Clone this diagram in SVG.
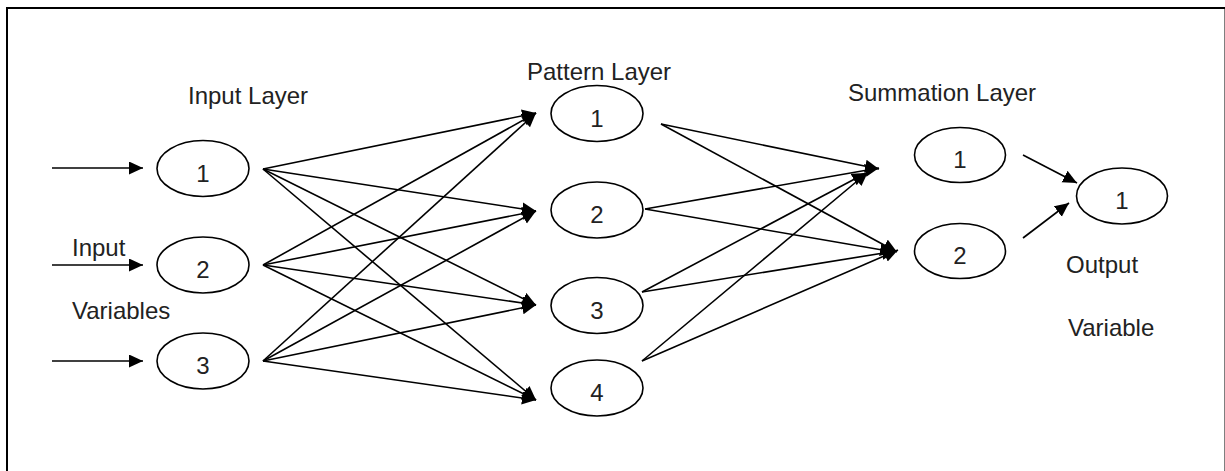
<svg xmlns="http://www.w3.org/2000/svg" width="1225" height="471" viewBox="0 0 1225 471">
<defs>
<style>
.t{font-family:"Liberation Sans",Arial,sans-serif;font-size:24px;fill:#222}
.n{font-family:"Liberation Sans",Arial,sans-serif;font-size:24px;fill:#222;text-anchor:middle}
.e{fill:#fff;stroke:#000;stroke-width:1.6}
.c line{stroke:#000;stroke-width:1.6;marker-end:url(#ah)}
</style>
<marker id="ah" markerUnits="userSpaceOnUse" markerWidth="15" markerHeight="14" refX="14" refY="6.5" orient="auto">
<path d="M0,0 L14,6.5 L0,13 z" fill="#000"/>
</marker>
</defs>
<rect width="1225" height="471" fill="#fff"/>
<path d="M7,480 V8 H1225.5 V480" fill="none" stroke="#000" stroke-width="2"/>

<text class="t" x="188" y="104">Input Layer</text>
<text class="t" x="527" y="80">Pattern Layer</text>
<text class="t" x="848" y="101">Summation Layer</text>
<text class="t" x="72" y="256">Input</text>
<text class="t" x="72" y="319">Variables</text>
<text class="t" x="1066" y="273">Output</text>
<text class="t" x="1068" y="336">Variable</text>

<g class="c" id="connectors">
<line x1="52" y1="168" x2="143" y2="168"/>
<line x1="52" y1="265" x2="143" y2="265"/>
<line x1="52" y1="361" x2="143" y2="361"/>

<line x1="263" y1="169" x2="536" y2="113"/>
<line x1="263" y1="169" x2="536" y2="211"/>
<line x1="263" y1="169" x2="536" y2="305"/>
<line x1="263" y1="169" x2="536" y2="400"/>
<line x1="263" y1="265" x2="536" y2="113"/>
<line x1="263" y1="265" x2="536" y2="211"/>
<line x1="263" y1="265" x2="536" y2="305"/>
<line x1="263" y1="265" x2="536" y2="400"/>
<line x1="263" y1="361" x2="536" y2="113"/>
<line x1="263" y1="361" x2="536" y2="211"/>
<line x1="263" y1="361" x2="536" y2="305"/>
<line x1="263" y1="361" x2="536" y2="400"/>

<line x1="661" y1="124" x2="879" y2="169"/>
<line x1="661" y1="124" x2="897" y2="252"/>
<line x1="645" y1="209" x2="879" y2="168"/>
<line x1="645" y1="209" x2="894" y2="252"/>
<line x1="642" y1="292" x2="866" y2="173"/>
<line x1="642" y1="292" x2="896" y2="251"/>
<line x1="642" y1="361" x2="868" y2="172"/>
<line x1="642" y1="361" x2="898" y2="250"/>

<line x1="1023" y1="155" x2="1077" y2="183"/>
<line x1="1023" y1="238" x2="1069" y2="203"/>
</g>

<g id="in1"><ellipse class="e" cx="203" cy="168.5" rx="46" ry="28"/><text class="n" x="203" y="181.5">1</text></g>
<g id="in2"><ellipse class="e" cx="203" cy="265" rx="46" ry="28"/><text class="n" x="203" y="278">2</text></g>
<g id="in3"><ellipse class="e" cx="203" cy="361" rx="46" ry="28"/><text class="n" x="203" y="374">3</text></g>

<g id="pat1"><ellipse class="e" cx="597" cy="113.5" rx="46" ry="28"/><text class="n" x="597" y="126.5">1</text></g>
<g id="pat2"><ellipse class="e" cx="597" cy="210" rx="46" ry="28"/><text class="n" x="597" y="223">2</text></g>
<g id="pat3"><ellipse class="e" cx="597" cy="305.5" rx="46" ry="28"/><text class="n" x="597" y="318.5">3</text></g>
<g id="pat4"><ellipse class="e" cx="597" cy="388" rx="46" ry="28"/><text class="n" x="597" y="401">4</text></g>

<g id="sum1"><ellipse class="e" cx="960" cy="155" rx="45.5" ry="27.5"/><text class="n" x="960" y="168">1</text></g>
<g id="sum2"><ellipse class="e" cx="960" cy="251" rx="45.5" ry="27.5"/><text class="n" x="960" y="264">2</text></g>

<g id="out1"><ellipse class="e" cx="1122" cy="196" rx="45.5" ry="28"/><text class="n" x="1122" y="209">1</text></g>
</svg>
